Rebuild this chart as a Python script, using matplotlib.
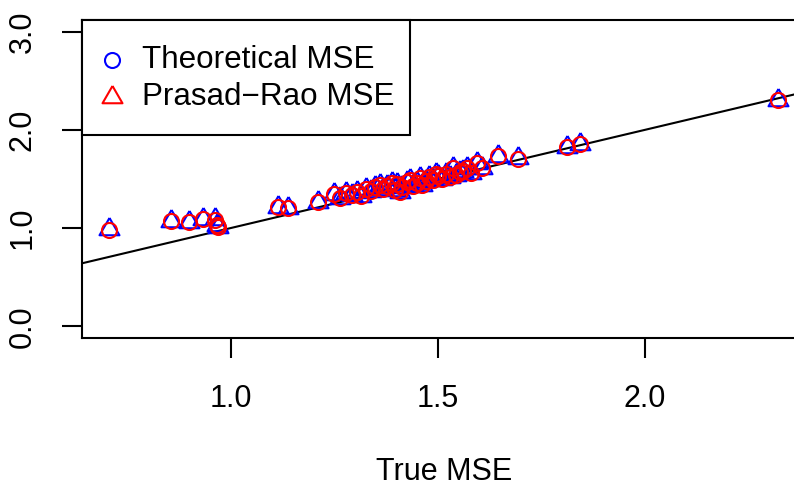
import matplotlib
matplotlib.use("Agg")
from matplotlib import pyplot as plt
from matplotlib.patches import Rectangle

plt.rcParams["font.family"] = ["Liberation Sans", "DejaVu Sans"]
plt.rcParams["font.size"] = 22

# true MSE vs estimated MSE
true_mse = [0.706, 0.856, 0.900, 0.933, 0.962, 0.966, 0.970, 1.115, 1.139, 1.212,
            1.250, 1.265, 1.278, 1.292, 1.305, 1.315, 1.328, 1.340, 1.348, 1.360,
            1.368, 1.378, 1.389, 1.397, 1.402, 1.408, 1.415, 1.425, 1.433, 1.440,
            1.450, 1.457, 1.463, 1.472, 1.480, 1.489, 1.495, 1.501, 1.510, 1.520,
            1.530, 1.538, 1.545, 1.555, 1.562, 1.570, 1.580, 1.594, 1.606, 1.646,
            1.695, 1.812, 1.844, 2.322]
theo_mse = [0.99, 1.07, 1.06, 1.09, 1.09, 1.03, 1.01, 1.21, 1.20, 1.27,
            1.35, 1.31, 1.36, 1.34, 1.37, 1.33, 1.40, 1.38, 1.42, 1.44,
            1.40, 1.43, 1.46, 1.39, 1.45, 1.37, 1.42, 1.47, 1.49, 1.43,
            1.46, 1.51, 1.44, 1.48, 1.52, 1.49, 1.55, 1.53, 1.50, 1.55,
            1.52, 1.61, 1.54, 1.57, 1.58, 1.61, 1.56, 1.66, 1.61, 1.73,
            1.71, 1.83, 1.86, 2.31]
pr_mse = [0.98, 1.07, 1.06, 1.09, 1.08, 1.03, 1.01, 1.21, 1.20, 1.27,
          1.35, 1.31, 1.36, 1.34, 1.37, 1.33, 1.40, 1.38, 1.42, 1.44,
          1.40, 1.43, 1.46, 1.39, 1.45, 1.37, 1.42, 1.47, 1.49, 1.43,
          1.46, 1.51, 1.44, 1.48, 1.52, 1.49, 1.55, 1.53, 1.50, 1.55,
          1.52, 1.61, 1.54, 1.57, 1.58, 1.61, 1.56, 1.66, 1.61, 1.73,
          1.70, 1.83, 1.86, 2.31]

x_ticks = [1.0, 1.5, 2.0]
y_ticks = [0.0, 1.0, 2.0, 3.0]
legend_labels = ["Theoretical MSE", "Prasad\u2212Rao MSE"]
legend_colors = ["blue", "red"]

# R style triangle (centroid at the point)
tri = [(0, 1), (-0.866, -0.5), (0.866, -0.5), (0, 1)]
legend_markers = ["o", tri]
marker_size = {"o": 10.8}

fig = plt.figure(figsize=(7.94, 4.91), dpi=100)
# axes run past the right edge like the original
ax = fig.add_axes([82 / 794, (491 - 338) / 491, 725 / 794, 318 / 491])

ax.axline((0, 0), slope=1, color="black", lw=1.5, zorder=1)
ax.plot(true_mse, theo_mse, ls="none", marker=tri, ms=16.6, mfc="none",
        mec="blue", mew=1.5, zorder=2)
ax.plot(true_mse, pr_mse, ls="none", marker="o", ms=10.8, mfc="none",
        mec="red", mew=1.5, zorder=3)

ax.set_xlim(0.641, 0.641 + 725 / 414)
ax.set_ylim(-0.12, 3.12)
ax.set_xticks(x_ticks)
ax.set_xticklabels(["%.1f" % v for v in x_ticks])
ax.set_yticks(y_ticks)
ax.set_yticklabels(["%.1f" % v for v in y_ticks], rotation=90, va="center")
ax.tick_params(axis="both", length=14.4, width=1.5, direction="out")
ax.tick_params(axis="x", pad=18.5)
ax.tick_params(axis="y", pad=17.5)
for s in ax.spines.values():
    s.set_linewidth(1.5)

# legend box drawn by hand, R style (topleft)
ax.add_patch(Rectangle((0, 0.6384), 328 / 725, 1 - 0.6384, transform=ax.transAxes,
                       fill=True, facecolor="white", edgecolor="black",
                       lw=1.5, zorder=5, clip_on=False))
row_y = [(338 - 60) / 318, (338 - 97) / 318]
for i, lab in enumerate(legend_labels):
    m = legend_markers[i]
    ax.plot([30 / 725], [row_y[i]], transform=ax.transAxes, ls="none",
            marker=m, ms=10.8 if m == "o" else 16.6, mfc="none",
            mec=legend_colors[i], mew=1.5, zorder=6, clip_on=False)
    ax.text(60 / 725, row_y[i], lab, transform=ax.transAxes, ha="left",
            va="center", fontsize=22.6, zorder=6)

fig.text(444.5 / 794, 1 - 472 / 491, "True MSE", ha="center", va="center")

fig.savefig("out.png", dpi=100)
